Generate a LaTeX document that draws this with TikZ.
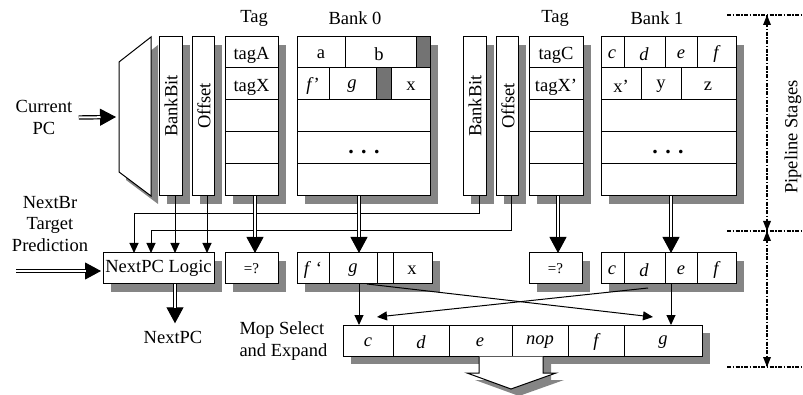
\documentclass[tikz,border=0pt]{standalone}
\usepackage{fontspec}
\setmainfont{Liberation Serif}
\usetikzlibrary{arrows.meta,calc}
\definecolor{shadowgray}{gray}{0.52}
\definecolor{blockgray}{gray}{0.45}
% double-line arrow: thin line with big head, double shaft on top
\newcommand\dblarrow[2]{%
  \draw[line width=1pt,-{Triangle[length=16pt,width=17pt]}] #1 -- #2;
  \draw[line width=1.2pt,double=white,double distance=2pt,shorten >=15.5pt] #1 -- #2;}
% box with a drop shadow: name, left, top, width, height
\newcommand\shbox[5]{%
  \fill[shadowgray] ($(#2,#3)+(8,8)$) rectangle ++(#4,#5);
  \node[box,minimum width=#4pt,minimum height=#5pt] (#1) at (#2,#3) {};}
\begin{document}
\begin{tikzpicture}[x=1pt,y=-1pt,line width=1pt,
  every node/.style={font=\fontsize{18.5}{21.5}\selectfont,inner sep=0pt},
  box/.style={draw,fill=white,inner sep=0pt,outer sep=0pt,anchor=north west},
  sarrow/.style={line width=1pt,-{Triangle[length=10pt,width=9pt]}},
  pipe/.style={line width=1.5pt,dash pattern=on 4pt off 1.5pt on 1.5pt off 1.5pt},
  small/.style={font=\fontsize{15}{18}\selectfont},
  dots/.style={font=\fontsize{22}{22}\selectfont\bfseries}]
\useasboundingbox (0,0) rectangle (803,395);

% ---- input selector (trapezoid) ----
\fill[shadowgray] (126,70) -- (158,45) -- (158,204) -- (126,180) -- cycle;
\draw[fill=white] (119,62) -- (151,37) -- (151,196) -- (119,172) -- cycle;
\coordinate (muxin) at (119,117);

% ---- first stage: fields, tag and bank arrays ----
\shbox{bb0}{159}{37}{23}{159}
\shbox{of0}{192}{37}{22}{159}
\shbox{tag0}{225}{37}{53}{159}
\shbox{bank0}{297}{37}{133}{159}
\shbox{bb1}{463}{37}{23}{159}
\shbox{of1}{496}{37}{22}{159}
\shbox{tag1}{529}{37}{54}{159}
\shbox{bank1}{601}{37}{135}{159}

\foreach \y in {68,100,132,164}{
  \draw (225,\y) -- (278,\y);
  \draw (297,\y) -- (430,\y);
  \draw (529,\y) -- (583,\y);
  \draw (601,\y) -- (736,\y);}
% bank 0 rows
\draw (345,37) -- (345,68);
\draw[fill=blockgray] (416,37) rectangle (430,68);
\draw (329,68) -- (329,100);
\draw[fill=blockgray] (376,68) rectangle (391,100);
% bank 1 rows
\foreach \x in {624,665,697} \draw (\x,37) -- (\x,68);
\foreach \x in {641,681} \draw (\x,68) -- (\x,100);

\node[rotate=90] at (171,106) {BankBit};
\node[rotate=90] at (204,106) {Offset};
\node[rotate=90] at (475,106) {BankBit};
\node[rotate=90] at (508,106) {Offset};

\node at (254,18) {Tag};
\node at (355,18) {Bank 0};
\node at (555,18) {Tag};
\node at (657,18) {Bank 1};

\node at (251.5,55) {tagA};
\node at (251.5,87) {tagX};
\node at (556,55) {tagC};
\node at (556,87) {tagX’};

\node at (321,54) {a};
\node at (379,54) {b};
\node at (313,86) {\itshape f\/\upshape ’};
\node at (352,86) {\itshape g};
\node at (411,86) {x};
\node[dots] at (364,152) {. . .};

\node at (612,54) {\itshape c};
\node at (644,54) {\itshape d};
\node at (681,54) {\itshape e};
\node at (716,54) {\itshape f};
\node at (621,86) {x’};
\node at (661,86) {y};
\node at (708,86) {z};
\node[dots] at (668,152) {. . .};

% ---- second stage ----
\shbox{npc}{103}{253}{111}{31}
\node at (npc.center) {NextPC Logic};
\shbox{eq0}{225}{253}{53}{31}
\node[small] at (eq0.center) {=?};
\shbox{b0r}{297}{253}{135}{31}
\shbox{eq1}{529}{253}{53}{31}
\node[small] at (eq1.center) {=?};
\shbox{b1r}{601}{253}{135}{31}
\foreach \x in {329,377,393} \draw (\x,253) -- (\x,284);
\foreach \x in {624,665,697} \draw (\x,253) -- (\x,284);
\node at (313,270) {\itshape f\/\upshape\ ‘};
\node at (353,270) {\itshape g};
\node at (412,270) {x};
\node at (612,270) {\itshape c};
\node at (644,270) {\itshape d};
\node at (681,270) {\itshape e};
\node at (716,270) {\itshape f};

% ---- mop select and expand ----
\shbox{mop}{343}{325}{359}{31}
\foreach \x in {393,449,512,568,624} \draw (\x,325) -- (\x,356);
\node at (368,342) {\itshape c};
\node at (421,342) {\itshape d};
\node at (480,342) {\itshape e};
\node at (540,342) {\itshape nop};
\node at (596,342) {\itshape f};
\node at (663,342) {\itshape g};
\node[align=left,anchor=west] (mopl) at (239,341) {Mop Select\\and Expand};

% hollow output arrow
\fill[shadowgray] (487,364) -- (551,364) -- (551,380) -- (564,380) -- (519,396) -- (475,380) -- (487,380) -- cycle;
\fill[white] (479,356.5) -- (543,356.5) -- (543,373) -- (556,373) -- (511,389) -- (467,373) -- (479,373) -- cycle;
\draw (479,356.5) -- (479,373) -- (467,373) -- (511,389) -- (556,373) -- (543,373) -- (543,356.5);

% ---- side labels and inputs ----
\node[align=center] (cpc) at (44,117.5) {Current\\PC};
\dblarrow{($(cpc.east)+(6,0)$)}{($(muxin)+(-3,0)$)}
\node[align=center] (nbr) at (50,224) {NextBr\\Target\\Prediction};
\coordinate (nbrin) at (16,271);
\coordinate (nbrout) at ($(npc.west |- nbrin)+(-2,0)$);
\dblarrow{(nbrin)}{(nbrout)}
\node (nextpc) at (173,337) {NextPC};
\coordinate (nout) at ($(npc.south)+(16.5,0)$);
\dblarrow{(nout)}{($(nextpc.north)+(2,-7)$)}

% ---- first stage to second stage ----
\coordinate (b0) at ($(bb0.south)+(4.5,0)$);
\draw[sarrow] (b0) -- (b0 |- npc.north);
\coordinate (o0) at ($(of0.south)+(4,0)$);
\draw[sarrow] (o0) -- (o0 |- npc.north);
\coordinate (b1) at ($(bb1.south)+(4.5,0)$);
\coordinate (k1) at (134,214);
\draw[sarrow] (b1) -- (b1 |- k1) -- (k1) -- (k1 |- npc.north);
\coordinate (o1) at ($(of1.south)+(4,0)$);
\coordinate (k2) at (151,231);
\draw[sarrow] (o1) -- (o1 |- k2) -- (k2) -- (k2 |- npc.north);

\dblarrow{($(tag0.south)+(3.5,0)$)}{($(eq0.north)+(3.5,0)$)}
\dblarrow{($(bank0.south)+(-4.5,0)$)}{($(b0r.north)+(-5.5,0)$)}
\dblarrow{($(tag1.south)+(2,0)$)}{($(eq1.north)+(2.5,0)$)}
\dblarrow{($(bank1.south)+(2.5,0)$)}{($(b1r.north)+(2.5,0)$)}

% ---- second stage to mop select ----
\coordinate (g0) at ($(b0r.south)+(-5.5,0)$);
\draw[sarrow] (g0) -- (g0 |- mop.north);
\coordinate (e1) at ($(b1r.south)+(2.5,0)$);
\draw[sarrow] (e1) -- (e1 |- mop.north);
\coordinate (gsrc) at ($(b0r.south)+(2.5,0)$);
\coordinate (gdst) at (653,317);
\draw[sarrow] (gsrc) -- (gdst);
\coordinate (csrc) at (648,288);
\coordinate (cdst) at (377,317);
\draw[sarrow] (csrc) -- (cdst);

% ---- pipeline stage markers ----
\draw[pipe] (727,15) -- (803,15);
\draw[pipe] (727,231) -- (803,231);
\draw[pipe] (727,367) -- (803,367);
\coordinate (p0) at (767,15);
\coordinate (p1) at (767,231);
\coordinate (p2) at (767,367);
\draw[pipe] (p0) -- (p1);
\draw[pipe] (p1) -- (p2);
\fill (p0) -- ++(-4,10) -- ++(8,0) -- cycle;
\fill (p1) -- ++(-4,-10) -- ++(8,0) -- cycle;
\fill (p1) -- ++(-4,10) -- ++(8,0) -- cycle;
\fill (p2) -- ++(-4,-10) -- ++(8,0) -- cycle;
\node[rotate=90] at (793,137) {Pipeline Stages};
\end{tikzpicture}
\end{document}
